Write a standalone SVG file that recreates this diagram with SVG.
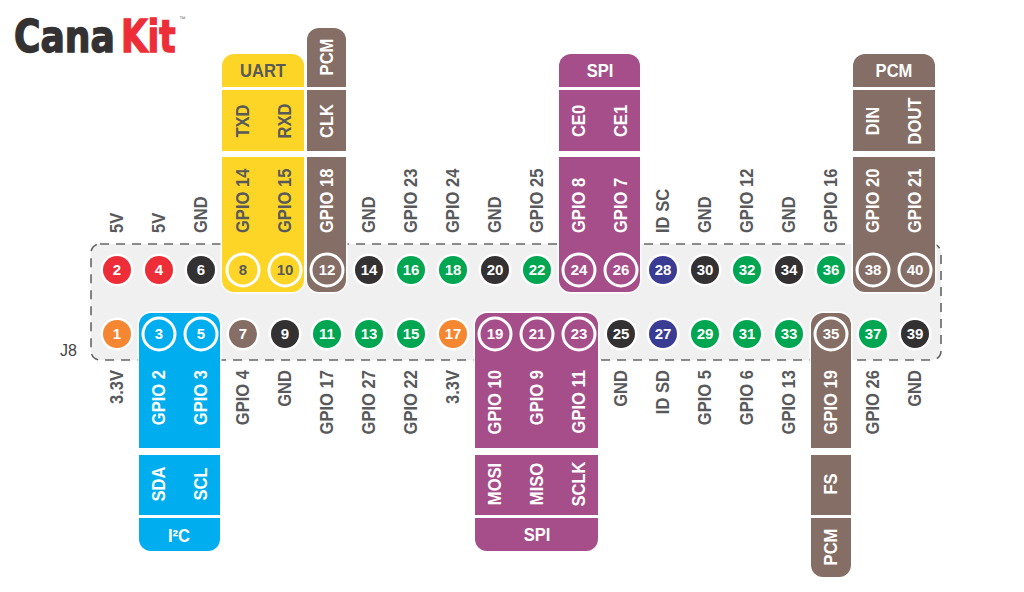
<svg xmlns="http://www.w3.org/2000/svg" width="1024" height="592" viewBox="0 0 1024 592">
<style>
text{font-family:"Liberation Sans",Arial,sans-serif;font-weight:700}
.board{fill:#f0f0f0;stroke:#666;stroke-width:1.6;stroke-dasharray:9 7}
.halo{fill:#fff}
.ring{fill:none;stroke:#fff;stroke-width:3}
.num{font-size:15px;text-anchor:middle;fill:#fff}
.num.dk{fill:#58595b}
.s{stroke:#fff;stroke-width:3;paint-order:stroke}
.yl{fill:#fdd526}.br{fill:#846e66}.bl{fill:#00aeef}.mg{fill:#a54e8a}
.gr{fill:#00a651}.rd{fill:#ed2e38}.bk{fill:#333132}.nv{fill:#3a3c94}.or{fill:#f58632}
.lb{font-size:18px;fill:#58595b}
.w{fill:#fff}
.st{text-anchor:start}.en{text-anchor:end}.mid{text-anchor:middle}
.logo{font-family:"DejaVu Sans",sans-serif;font-weight:700;font-size:44px;stroke-width:1.4}
</style>

<!-- Logo -->
<g id="logo">
<text class="logo" transform="translate(14 52) scale(.82 1)" style="fill:#333132;stroke:#333132">Cana</text>
<text class="logo" transform="translate(121 52) scale(.78 1)" style="fill:#ed2e38;stroke:#ed2e38">Kit</text>
<text x="179" y="21" style="font-size:6.5px;font-weight:400;fill:#777">™</text>
</g>

<!-- Header outline -->
<g id="header">
<rect class="board" x="91" y="244" width="850" height="116" rx="9"/>
<text x="60" y="356" style="font-size:16px;font-weight:400;fill:#444">J8</text>
</g>

<!-- Function blocks -->
<g id="uart">
<path class="yl s" d="M222 87V66a12 12 0 0 1 12-12h58a12 12 0 0 1 12 12v21z"/>
<rect class="yl s" x="222" y="90" width="82" height="61"/>
<path class="yl s" d="M222 157h82v123a12 12 0 0 1-12 12h-58a12 12 0 0 1-12-12z"/>
<text class="lb mid" transform="translate(263 77) scale(.92 1)">UART</text>
<text class="lb mid" transform="translate(249 121) rotate(-90) scale(.92 1)">TXD</text>
<text class="lb mid" transform="translate(291 121) rotate(-90) scale(.92 1)">RXD</text>
<text class="lb st" transform="translate(249 233) rotate(-90) scale(.92 1)">GPIO 14</text>
<text class="lb st" transform="translate(291 233) rotate(-90) scale(.92 1)">GPIO 15</text>
</g>
<g id="pcm-clk">
<path class="br s" d="M307 87V40a12 12 0 0 1 12-12h15a12 12 0 0 1 12 12v47z"/>
<rect class="br s" x="307" y="90" width="39" height="61"/>
<path class="br s" d="M307 157h39v123a12 12 0 0 1-12 12h-15a12 12 0 0 1-12-12z"/>
<text class="lb mid w" transform="translate(333 57) rotate(-90) scale(.92 1)">PCM</text>
<text class="lb mid w" transform="translate(333 121) rotate(-90) scale(.92 1)">CLK</text>
<text class="lb st w" transform="translate(333 233) rotate(-90) scale(.92 1)">GPIO 18</text>
</g>
<g id="spi-top">
<path class="mg s" d="M559 87V66a12 12 0 0 1 12-12h57a12 12 0 0 1 12 12v21z"/>
<rect class="mg s" x="559" y="90" width="81" height="61"/>
<path class="mg s" d="M559 157h81v123a12 12 0 0 1-12 12h-57a12 12 0 0 1-12-12z"/>
<text class="lb mid w" transform="translate(600 77) scale(.92 1)">SPI</text>
<text class="lb mid w" transform="translate(585 121) rotate(-90) scale(.92 1)">CE0</text>
<text class="lb mid w" transform="translate(627 121) rotate(-90) scale(.92 1)">CE1</text>
<text class="lb st w" transform="translate(585 233) rotate(-90) scale(.92 1)">GPIO 8</text>
<text class="lb st w" transform="translate(627 233) rotate(-90) scale(.92 1)">GPIO 7</text>
</g>
<g id="pcm-top">
<path class="br s" d="M853 87V66a12 12 0 0 1 12-12h58a12 12 0 0 1 12 12v21z"/>
<rect class="br s" x="853" y="90" width="82" height="61"/>
<path class="br s" d="M853 157h82v123a12 12 0 0 1-12 12h-58a12 12 0 0 1-12-12z"/>
<text class="lb mid w" transform="translate(894 77) scale(.92 1)">PCM</text>
<text class="lb mid w" transform="translate(879 121) rotate(-90) scale(.92 1)">DIN</text>
<text class="lb mid w" transform="translate(921 121) rotate(-90) scale(.92 1)">DOUT</text>
<text class="lb st w" transform="translate(879 233) rotate(-90) scale(.92 1)">GPIO 20</text>
<text class="lb st w" transform="translate(921 233) rotate(-90) scale(.92 1)">GPIO 21</text>
</g>
<g id="i2c">
<path class="bl s" d="M139 448V325a12 12 0 0 1 12-12h57a12 12 0 0 1 12 12v123z"/>
<rect class="bl s" x="139" y="455" width="81" height="60"/>
<path class="bl s" d="M139 518h81v21a12 12 0 0 1-12 12h-57a12 12 0 0 1-12-12z"/>
<text class="lb en w" transform="translate(165 370) rotate(-90) scale(.92 1)">GPIO 2</text>
<text class="lb en w" transform="translate(207 370) rotate(-90) scale(.92 1)">GPIO 3</text>
<text class="lb mid w" transform="translate(165 484) rotate(-90) scale(.92 1)">SDA</text>
<text class="lb mid w" transform="translate(207 484) rotate(-90) scale(.92 1)">SCL</text>
<text class="lb mid w" transform="translate(179 542) scale(.92 1)">I²C</text>
</g>
<g id="spi-bottom">
<path class="mg s" d="M475 448V325a12 12 0 0 1 12-12h99a12 12 0 0 1 12 12v123z"/>
<rect class="mg s" x="475" y="455" width="123" height="60"/>
<path class="mg s" d="M475 518h123v21a12 12 0 0 1-12 12h-99a12 12 0 0 1-12-12z"/>
<text class="lb en w" transform="translate(501 370) rotate(-90) scale(.92 1)">GPIO 10</text>
<text class="lb en w" transform="translate(543 370) rotate(-90) scale(.92 1)">GPIO 9</text>
<text class="lb en w" transform="translate(585 370) rotate(-90) scale(.92 1)">GPIO 11</text>
<text class="lb mid w" transform="translate(501 484) rotate(-90) scale(.92 1)">MOSI</text>
<text class="lb mid w" transform="translate(543 484) rotate(-90) scale(.92 1)">MISO</text>
<text class="lb mid w" transform="translate(585 484) rotate(-90) scale(.92 1)">SCLK</text>
<text class="lb mid w" transform="translate(537 541) scale(.92 1)">SPI</text>
</g>
<g id="pcm-bottom">
<path class="br s" d="M811 448V325a12 12 0 0 1 12-12h16a12 12 0 0 1 12 12v123z"/>
<rect class="br s" x="811" y="455" width="40" height="60"/>
<path class="br s" d="M811 518h40v47a12 12 0 0 1-12 12h-16a12 12 0 0 1-12-12z"/>
<text class="lb en w" transform="translate(837 370) rotate(-90) scale(.92 1)">GPIO 19</text>
<text class="lb mid w" transform="translate(837 484) rotate(-90) scale(.92 1)">FS</text>
<text class="lb mid w" transform="translate(837 547) rotate(-90) scale(.92 1)">PCM</text>
</g>

<!-- Even pins, upper row -->
<g id="pin2"><circle class="halo" cx="117" cy="270" r="16.5"/><circle class="rd" cx="117" cy="270" r="14"/><text class="num" x="117" y="275">2</text><text class="lb st" transform="translate(123 233) rotate(-90) scale(.92 1)">5V</text></g>
<g id="pin4"><circle class="halo" cx="159" cy="270" r="16.5"/><circle class="rd" cx="159" cy="270" r="14"/><text class="num" x="159" y="275">4</text><text class="lb st" transform="translate(165 233) rotate(-90) scale(.92 1)">5V</text></g>
<g id="pin6"><circle class="halo" cx="201" cy="270" r="16.5"/><circle class="bk" cx="201" cy="270" r="14"/><text class="num" x="201" y="275">6</text><text class="lb st" transform="translate(207 233) rotate(-90) scale(.92 1)">GND</text></g>
<g id="pin8"><circle class="ring" cx="243" cy="270" r="16"/><text class="num dk" x="243" y="275">8</text></g>
<g id="pin10"><circle class="ring" cx="285" cy="270" r="16"/><text class="num dk" x="285" y="275">10</text></g>
<g id="pin12"><circle class="ring" cx="327" cy="270" r="16"/><text class="num" x="327" y="275">12</text></g>
<g id="pin14"><circle class="halo" cx="369" cy="270" r="16.5"/><circle class="bk" cx="369" cy="270" r="14"/><text class="num" x="369" y="275">14</text><text class="lb st" transform="translate(375 233) rotate(-90) scale(.92 1)">GND</text></g>
<g id="pin16"><circle class="halo" cx="411" cy="270" r="16.5"/><circle class="gr" cx="411" cy="270" r="14"/><text class="num" x="411" y="275">16</text><text class="lb st" transform="translate(417 233) rotate(-90) scale(.92 1)">GPIO 23</text></g>
<g id="pin18"><circle class="halo" cx="453" cy="270" r="16.5"/><circle class="gr" cx="453" cy="270" r="14"/><text class="num" x="453" y="275">18</text><text class="lb st" transform="translate(459 233) rotate(-90) scale(.92 1)">GPIO 24</text></g>
<g id="pin20"><circle class="halo" cx="495" cy="270" r="16.5"/><circle class="bk" cx="495" cy="270" r="14"/><text class="num" x="495" y="275">20</text><text class="lb st" transform="translate(501 233) rotate(-90) scale(.92 1)">GND</text></g>
<g id="pin22"><circle class="halo" cx="537" cy="270" r="16.5"/><circle class="gr" cx="537" cy="270" r="14"/><text class="num" x="537" y="275">22</text><text class="lb st" transform="translate(543 233) rotate(-90) scale(.92 1)">GPIO 25</text></g>
<g id="pin24"><circle class="ring" cx="579" cy="270" r="16"/><text class="num" x="579" y="275">24</text></g>
<g id="pin26"><circle class="ring" cx="621" cy="270" r="16"/><text class="num" x="621" y="275">26</text></g>
<g id="pin28"><circle class="halo" cx="663" cy="270" r="16.5"/><circle class="nv" cx="663" cy="270" r="14"/><text class="num" x="663" y="275">28</text><text class="lb st" transform="translate(669 233) rotate(-90) scale(.92 1)">ID SC</text></g>
<g id="pin30"><circle class="halo" cx="705" cy="270" r="16.5"/><circle class="bk" cx="705" cy="270" r="14"/><text class="num" x="705" y="275">30</text><text class="lb st" transform="translate(711 233) rotate(-90) scale(.92 1)">GND</text></g>
<g id="pin32"><circle class="halo" cx="747" cy="270" r="16.5"/><circle class="gr" cx="747" cy="270" r="14"/><text class="num" x="747" y="275">32</text><text class="lb st" transform="translate(753 233) rotate(-90) scale(.92 1)">GPIO 12</text></g>
<g id="pin34"><circle class="halo" cx="789" cy="270" r="16.5"/><circle class="bk" cx="789" cy="270" r="14"/><text class="num" x="789" y="275">34</text><text class="lb st" transform="translate(795 233) rotate(-90) scale(.92 1)">GND</text></g>
<g id="pin36"><circle class="halo" cx="831" cy="270" r="16.5"/><circle class="gr" cx="831" cy="270" r="14"/><text class="num" x="831" y="275">36</text><text class="lb st" transform="translate(837 233) rotate(-90) scale(.92 1)">GPIO 16</text></g>
<g id="pin38"><circle class="ring" cx="873" cy="270" r="16"/><text class="num" x="873" y="275">38</text></g>
<g id="pin40"><circle class="ring" cx="915" cy="270" r="16"/><text class="num" x="915" y="275">40</text></g>

<!-- Odd pins, lower row -->
<g id="pin1"><circle class="halo" cx="117" cy="334" r="16.5"/><circle class="or" cx="117" cy="334" r="14"/><text class="num" x="117" y="339">1</text><text class="lb en" transform="translate(123 370) rotate(-90) scale(.92 1)">3.3V</text></g>
<g id="pin3"><circle class="ring" cx="159" cy="334" r="16"/><text class="num" x="159" y="339">3</text></g>
<g id="pin5"><circle class="ring" cx="201" cy="334" r="16"/><text class="num" x="201" y="339">5</text></g>
<g id="pin7"><circle class="halo" cx="243" cy="334" r="16.5"/><circle class="br" cx="243" cy="334" r="14"/><text class="num" x="243" y="339">7</text><text class="lb en" transform="translate(249 370) rotate(-90) scale(.92 1)">GPIO 4</text></g>
<g id="pin9"><circle class="halo" cx="285" cy="334" r="16.5"/><circle class="bk" cx="285" cy="334" r="14"/><text class="num" x="285" y="339">9</text><text class="lb en" transform="translate(291 370) rotate(-90) scale(.92 1)">GND</text></g>
<g id="pin11"><circle class="halo" cx="327" cy="334" r="16.5"/><circle class="gr" cx="327" cy="334" r="14"/><text class="num" x="327" y="339">11</text><text class="lb en" transform="translate(333 370) rotate(-90) scale(.92 1)">GPIO 17</text></g>
<g id="pin13"><circle class="halo" cx="369" cy="334" r="16.5"/><circle class="gr" cx="369" cy="334" r="14"/><text class="num" x="369" y="339">13</text><text class="lb en" transform="translate(375 370) rotate(-90) scale(.92 1)">GPIO 27</text></g>
<g id="pin15"><circle class="halo" cx="411" cy="334" r="16.5"/><circle class="gr" cx="411" cy="334" r="14"/><text class="num" x="411" y="339">15</text><text class="lb en" transform="translate(417 370) rotate(-90) scale(.92 1)">GPIO 22</text></g>
<g id="pin17"><circle class="halo" cx="453" cy="334" r="16.5"/><circle class="or" cx="453" cy="334" r="14"/><text class="num" x="453" y="339">17</text><text class="lb en" transform="translate(459 370) rotate(-90) scale(.92 1)">3.3V</text></g>
<g id="pin19"><circle class="ring" cx="495" cy="334" r="16"/><text class="num" x="495" y="339">19</text></g>
<g id="pin21"><circle class="ring" cx="537" cy="334" r="16"/><text class="num" x="537" y="339">21</text></g>
<g id="pin23"><circle class="ring" cx="579" cy="334" r="16"/><text class="num" x="579" y="339">23</text></g>
<g id="pin25"><circle class="halo" cx="621" cy="334" r="16.5"/><circle class="bk" cx="621" cy="334" r="14"/><text class="num" x="621" y="339">25</text><text class="lb en" transform="translate(627 370) rotate(-90) scale(.92 1)">GND</text></g>
<g id="pin27"><circle class="halo" cx="663" cy="334" r="16.5"/><circle class="nv" cx="663" cy="334" r="14"/><text class="num" x="663" y="339">27</text><text class="lb en" transform="translate(669 370) rotate(-90) scale(.92 1)">ID SD</text></g>
<g id="pin29"><circle class="halo" cx="705" cy="334" r="16.5"/><circle class="gr" cx="705" cy="334" r="14"/><text class="num" x="705" y="339">29</text><text class="lb en" transform="translate(711 370) rotate(-90) scale(.92 1)">GPIO 5</text></g>
<g id="pin31"><circle class="halo" cx="747" cy="334" r="16.5"/><circle class="gr" cx="747" cy="334" r="14"/><text class="num" x="747" y="339">31</text><text class="lb en" transform="translate(753 370) rotate(-90) scale(.92 1)">GPIO 6</text></g>
<g id="pin33"><circle class="halo" cx="789" cy="334" r="16.5"/><circle class="gr" cx="789" cy="334" r="14"/><text class="num" x="789" y="339">33</text><text class="lb en" transform="translate(795 370) rotate(-90) scale(.92 1)">GPIO 13</text></g>
<g id="pin35"><circle class="ring" cx="831" cy="334" r="16"/><text class="num" x="831" y="339">35</text></g>
<g id="pin37"><circle class="halo" cx="873" cy="334" r="16.5"/><circle class="gr" cx="873" cy="334" r="14"/><text class="num" x="873" y="339">37</text><text class="lb en" transform="translate(879 370) rotate(-90) scale(.92 1)">GPIO 26</text></g>
<g id="pin39"><circle class="halo" cx="915" cy="334" r="16.5"/><circle class="bk" cx="915" cy="334" r="14"/><text class="num" x="915" y="339">39</text><text class="lb en" transform="translate(921 370) rotate(-90) scale(.92 1)">GND</text></g>
</svg>
